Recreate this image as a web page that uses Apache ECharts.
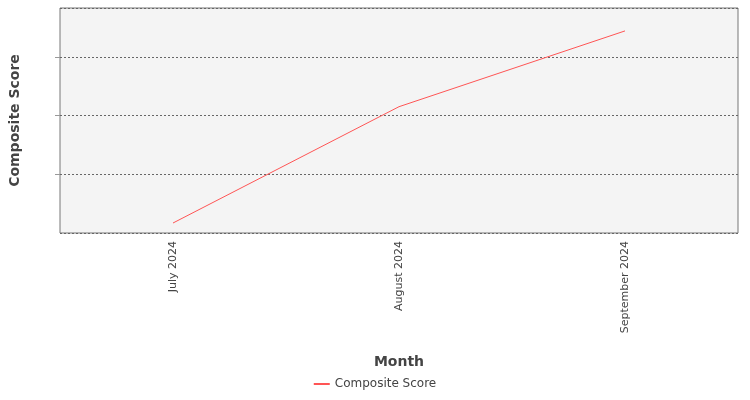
<!DOCTYPE html>
<html><head><meta charset="utf-8">
<script src="https://cdn.jsdelivr.net/npm/echarts@6/dist/echarts.min.js"></script>
<style>html,body{margin:0;padding:0;background:#fff}#c{width:750px;height:400px}</style>
</head><body><div id="c"></div>
<script>
const categories = ['July 2024', 'August 2024', 'September 2024'];
const compositeScore = [67.85, 69.83, 71.12];
const seriesName = 'Composite Score';
const chart = echarts.init(document.getElementById('c'));
chart.setOption({
  animation: false,
  textStyle: {fontFamily: 'DejaVu Sans'},
  grid: {left: 60, right: 12, top: 8, bottom: 167, show: true, backgroundColor: '#f4f4f4', borderColor: '#777', borderWidth: 1},
  legend: {bottom: 5, left: 'center', itemWidth: 16, itemHeight: 2, icon: 'rect',
    textStyle: {color: '#444', fontSize: 12, fontFamily: 'DejaVu Sans'}, data: [seriesName]},
  xAxis: {type: 'category', data: categories, boundaryGap: true,
    name: 'Month', nameLocation: 'middle', nameGap: 122,
    nameTextStyle: {fontSize: 14, fontWeight: 'bold', color: '#444'},
    axisLine: {show: false}, axisTick: {alignWithLabel: true, lineStyle: {color: '#999'}},
    axisLabel: {rotate: 90, color: '#444', fontSize: 11}},
  yAxis: {type: 'value', min: 67.68, max: 71.51, interval: 1,
    name: 'Composite Score', nameLocation: 'middle', nameGap: 38,
    nameTextStyle: {fontSize: 14, fontWeight: 'bold', color: '#444'},
    axisLine: {show: false}, axisTick: {show: true, lineStyle: {color: '#999'}},
    axisLabel: {color: '#444', fontSize: 11, showMinLabel: false, showMaxLabel: false,
      formatter: v => Number.isInteger(Math.round(v*1000)/1000) ? String(Math.round(v)) : ''},
    splitLine: {lineStyle: {color: '#666', type: [2, 2]}}},
  series: [{name: seriesName, type: 'line', data: compositeScore, showSymbol: false, symbol: 'none',
    lineStyle: {color: '#ff5555', width: 1}, itemStyle: {color: '#ff5555'}}]
});
</script></body></html>
